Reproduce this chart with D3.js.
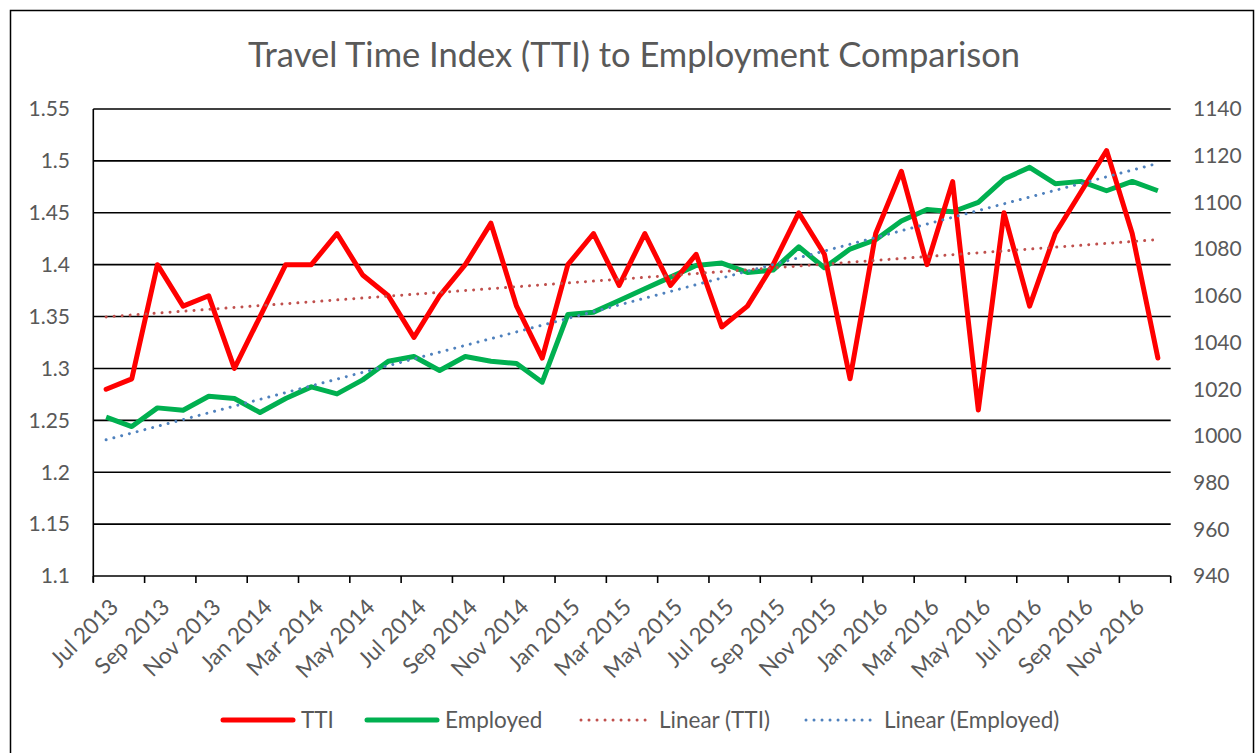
<!DOCTYPE html>
<html>
<head>
<meta charset="utf-8">
<script src="https://cdnjs.cloudflare.com/ajax/libs/d3/7.8.5/d3.min.js"></script>
<style>
  html, body { margin: 0; padding: 0; background: #fff; }
  svg { display: block; }
  text { font-family: Lato, "Open Sans", sans-serif; fill: #595959; }
</style>
</head>
<body>
<svg id="chart" width="1257" height="753"></svg>
<script>
// ---- Data ----
const months = [
  "Jul 2013","Aug 2013","Sep 2013","Oct 2013","Nov 2013","Dec 2013",
  "Jan 2014","Feb 2014","Mar 2014","Apr 2014","May 2014","Jun 2014",
  "Jul 2014","Aug 2014","Sep 2014","Oct 2014","Nov 2014","Dec 2014",
  "Jan 2015","Feb 2015","Mar 2015","Apr 2015","May 2015","Jun 2015",
  "Jul 2015","Aug 2015","Sep 2015","Oct 2015","Nov 2015","Dec 2015",
  "Jan 2016","Feb 2016","Mar 2016","Apr 2016","May 2016","Jun 2016",
  "Jul 2016","Aug 2016","Sep 2016","Oct 2016","Nov 2016","Dec 2016"
];
const tti = [1.28,1.29,1.40,1.36,1.37,1.30,1.35,1.40,1.40,1.43,1.39,1.37,
             1.33,1.37,1.40,1.44,1.36,1.31,1.40,1.43,1.38,1.43,1.38,1.41,
             1.34,1.36,1.40,1.45,1.41,1.29,1.43,1.49,1.40,1.48,1.26,1.45,
             1.36,1.43,1.47,1.51,1.43,1.31];
const employed = [1008,1004,1012,1011,1017,1016,1010,1016,1021,1018,1024,1032,
                  1034,1028,1034,1032,1031,1023,1052,1053,1058,1063,1068,1073,
                  1074,1070,1071,1081,1072,1080,1084,1092,1097,1096,1100,1110,
                  1115,1108,1109,1105,1109,1105];
const leftTicks = [1.1,1.15,1.2,1.25,1.3,1.35,1.4,1.45,1.5,1.55];
const rightTicks = [940,960,980,1000,1020,1040,1060,1080,1100,1120,1140];
const xTickLabels = months.filter((m,i) => i % 2 === 0);
const titleText = "Travel Time Index (TTI) to Employment Comparison";
const legendItems = [
  {name:"TTI", color:"#FF0000", type:"solid"},
  {name:"Employed", color:"#00B050", type:"solid"},
  {name:"Linear (TTI)", color:"#C0504D", type:"dot"},
  {name:"Linear (Employed)", color:"#4F81BD", type:"dot"}
];

// ---- Layout ----
const svg = d3.select("#chart");
const L = 93.3, R = 1170.7, T = 109, B = 576;

// frame
svg.append("rect").attr("x",10.5).attr("y",10.5).attr("width",1243).attr("height",760)
  .attr("fill","none").attr("stroke","#000").attr("stroke-width",1.5);

const x = d3.scaleBand().domain(months).range([L, R]).padding(0);
const cx = m => x(m) + x.bandwidth()/2;
const yL = d3.scaleLinear().domain([1.1,1.55]).range([B,T]);
const yR = d3.scaleLinear().domain([940,1140]).range([B,T]);

// gridlines
svg.append("g").selectAll("line").data(leftTicks).join("line")
  .attr("x1",L).attr("x2",R).attr("y1",d=>yL(d)).attr("y2",d=>yL(d))
  .attr("stroke","#000").attr("stroke-width",1.6);

// left axis line
svg.append("line").attr("x1",L).attr("x2",L).attr("y1",T).attr("y2",B+6)
  .attr("stroke","#000").attr("stroke-width",1.6);

// x ticks at boundaries every 2 months (and final edge)
const tickIdx = d3.range(0, months.length+1, 2);
svg.append("g").selectAll("line").data(tickIdx).join("line")
  .attr("x1",i => i < months.length ? x(months[i]) : R)
  .attr("x2",i => i < months.length ? x(months[i]) : R)
  .attr("y1",B).attr("y2",B+7)
  .attr("stroke","#000").attr("stroke-width",1.6);

// left labels
svg.append("g").selectAll("text").data(leftTicks).join("text")
  .attr("x",70).attr("y",d=>yL(d)).attr("dy","0.35em")
  .attr("text-anchor","end").style("font-size","21px")
  .text(d => String(+d.toFixed(2)));

// right labels
svg.append("g").selectAll("text").data(rightTicks).join("text")
  .attr("x",1193).attr("y",d=>yR(d)).attr("dy","0.35em")
  .attr("text-anchor","start").style("font-size","21px")
  .text(d => d);

// x labels
svg.append("g").selectAll("text").data(xTickLabels).join("text")
  .attr("transform", d => `translate(${cx(d)+8},${603}) rotate(-45)`)
  .attr("text-anchor","end").attr("dy","0.35em").style("font-size","22.5px")
  .text(d => d);

// trendlines (least-squares, as Excel's linear trendline)
function linfit(vals){
  const n = vals.length, xs = d3.range(n);
  const mx = d3.mean(xs), my = d3.mean(vals);
  let sxy=0, sxx=0;
  xs.forEach((xi,i)=>{ sxy += (xi-mx)*(vals[i]-my); sxx += (xi-mx)*(xi-mx); });
  const b = sxy/sxx, a = my - b*mx;
  return [a, a + b*(n-1)];
}
const tTrend = linfit(tti), eTrend = linfit(employed);
const first = months[0], last = months[months.length-1];

// data lines
const lineL = d3.line().x((d,i)=>cx(months[i])).y(d=>yL(d));
const lineR = d3.line().x((d,i)=>cx(months[i])).y(d=>yR(d));

svg.append("path").datum(employed).attr("d",lineR)
  .attr("fill","none").attr("stroke","#00B050").attr("stroke-width",5)
  .attr("stroke-linejoin","round");
svg.append("path").datum(tti).attr("d",lineL)
  .attr("fill","none").attr("stroke","#FF0000").attr("stroke-width",5)
  .attr("stroke-linejoin","round").attr("stroke-linecap","round");

svg.append("line").attr("x1",cx(first)).attr("x2",cx(last))
  .attr("y1",yL(tTrend[0])).attr("y2",yL(tTrend[1]))
  .attr("stroke","#C0504D").attr("stroke-width",3).attr("stroke-linecap","round")
  .attr("stroke-dasharray","0.01 8");
svg.append("line").attr("x1",cx(first)).attr("x2",cx(last))
  .attr("y1",yR(eTrend[0])).attr("y2",yR(eTrend[1]))
  .attr("stroke","#4F81BD").attr("stroke-width",3).attr("stroke-linecap","round")
  .attr("stroke-dasharray","0.01 8");

// title
const title = svg.append("text").attr("x",(248+1020)/2).attr("y",55).attr("dy","0.35em")
  .attr("text-anchor","middle").style("font-size","30px").text(titleText);
const tw = title.node().getComputedTextLength();
title.style("font-size", (30*772/tw).toFixed(2)+"px");

// legend
const legX = [223, 367, 581, 806];
const legY = 720;
const lg = svg.append("g");
legendItems.forEach((it,i)=>{
  const x0 = legX[i];
  const ln = lg.append("line").attr("x1",x0).attr("x2",x0+70).attr("y1",legY).attr("y2",legY)
    .attr("stroke",it.color);
  if (it.type==="solid") ln.attr("stroke-width",5).attr("stroke-linecap","round");
  else ln.attr("stroke-width",3).attr("stroke-linecap","round").attr("stroke-dasharray","0.01 8");
  lg.append("text").attr("x",x0+78).attr("y",legY).attr("dy","0.35em")
    .style("font-size","22.5px").text(it.name);
});
</script>
</body>
</html>
